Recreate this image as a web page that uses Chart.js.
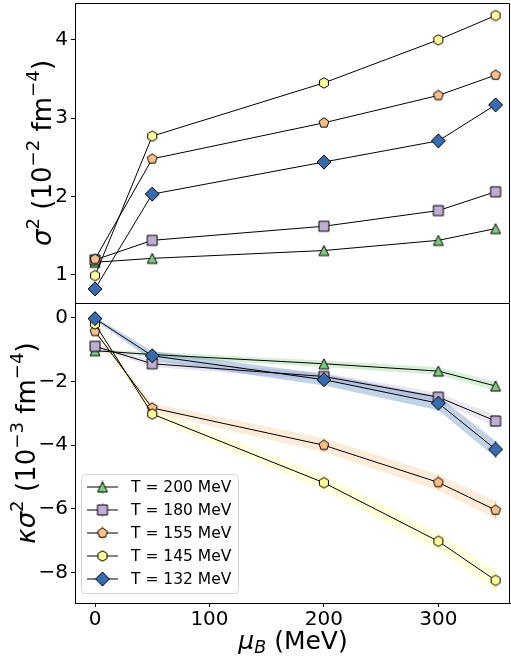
<!DOCTYPE html>
<html>
<head>
<meta charset="utf-8">
<script src="https://cdn.jsdelivr.net/npm/chart.js@4.4.0/dist/chart.umd.min.js"></script>
<style>
  body { margin: 0; background: #fff; }
  #wrap { position: relative; width: 511px; height: 659px; }
  canvas { position: absolute; left: 0; }
  #top { top: 0; }
  #bot { top: 303px; }
</style>
</head>
<body>
<div id="wrap">
  <canvas id="top" width="511" height="304"></canvas>
  <canvas id="bot" width="511" height="356"></canvas>
</div>
<script>
// chemical potential values (MeV)
var muB = [0, 50, 200, 300, 350];
var xTicks = [0, 100, 200, 300];
var topTicks = [1, 2, 3, 4];
var botTicks = [0, -2, -4, -6, -8];

var seriesLabels = ["T = 200 MeV", "T = 180 MeV", "T = 155 MeV", "T = 145 MeV", "T = 132 MeV"];
var seriesColors = ["#7fc97f", "#beaed4", "#fdc086", "#ffff99", "#386cb0"];
var seriesShapes = ["triangle", "square", "pentagon", "hexagon", "diamond"];

// sigma^2 (10^-2 fm^-4)
var sigma2_T200 = [1.16, 1.21, 1.31, 1.44, 1.59];
var sigma2_T180 = [1.19, 1.44, 1.62, 1.82, 2.06];
var sigma2_T155 = [1.20, 2.48, 2.94, 3.29, 3.55];
var sigma2_T145 = [0.99, 2.77, 3.45, 4.00, 4.31];
var sigma2_T132 = [0.82, 2.03, 2.44, 2.71, 3.17];

// kappa sigma^2 (10^-3 fm^-4)
var ks2_T200 = [-1.03, -1.15, -1.44, -1.67, -2.14];
var ks2_T180 = [-0.89, -1.44, -1.84, -2.49, -3.24];
var ks2_T155 = [-0.42, -2.83, -4.00, -5.17, -6.04];
var ks2_T145 = [-0.19, -3.02, -5.18, -7.02, -8.25];
var ks2_T132 = [-0.02, -1.19, -1.94, -2.68, -4.13];

// errors on kappa sigma^2
var ks2err_T200 = [0.05, 0.08, 0.10, 0.12, 0.14];
var ks2err_T180 = [0.05, 0.10, 0.12, 0.14, 0.18];
var ks2err_T155 = [0.05, 0.15, 0.22, 0.25, 0.28];
var ks2err_T145 = [0.05, 0.15, 0.25, 0.28, 0.32];
var ks2err_T132 = [0.05, 0.15, 0.18, 0.22, 0.26];

var sigma2All = [sigma2_T200, sigma2_T180, sigma2_T155, sigma2_T145, sigma2_T132];
var ks2All = [ks2_T200, ks2_T180, ks2_T155, ks2_T145, ks2_T132];
var ks2ErrAll = [ks2err_T200, ks2err_T180, ks2err_T155, ks2err_T145, ks2err_T132];

var FONT = '"DejaVu Sans", sans-serif';

function hexA(hex, a) {
  var n = parseInt(hex.slice(1), 16);
  return "rgba(" + (n >> 16) + "," + ((n >> 8) & 255) + "," + (n & 255) + "," + a + ")";
}

function makeMarker(shape, fill) {
  var c = document.createElement("canvas");
  c.width = 20; c.height = 20;
  var g = c.getContext("2d");
  g.translate(10, 10);
  g.beginPath();
  var i, a, n, r;
  if (shape == "triangle") {
    g.moveTo(0, -5); g.lineTo(5, 5); g.lineTo(-5, 5);
  } else if (shape == "square") {
    g.rect(-5, -5, 10, 10);
  } else if (shape == "diamond") {
    g.moveTo(0, -7); g.lineTo(7, 0); g.lineTo(0, 7); g.lineTo(-7, 0);
  } else {
    n = shape == "pentagon" ? 5 : 6;
    r = 5.2;
    for (i = 0; i < n; i++) {
      a = -Math.PI / 2 + i * 2 * Math.PI / n;
      if (i == 0) g.moveTo(r * Math.cos(a), r * Math.sin(a));
      else g.lineTo(r * Math.cos(a), r * Math.sin(a));
    }
  }
  g.closePath();
  g.fillStyle = fill;
  g.fill();
  g.lineWidth = 1;
  g.strokeStyle = "#000";
  g.stroke();
  return c;
}

var markers = seriesShapes.map(function (s, i) { return makeMarker(s, seriesColors[i]); });

function richText(ctx, parts, x, y, size, rot) {
  ctx.save();
  ctx.translate(x, y);
  ctx.rotate(rot);
  ctx.textBaseline = "alphabetic";
  ctx.textAlign = "left";
  var fonts = [], widths = [], total = 0;
  parts.forEach(function (p) {
    var s = (p.sup || p.sub) ? size * 0.7 : size;
    var f = (p.it ? "italic " : "") + s + "px " + FONT;
    ctx.font = f;
    var w = ctx.measureText(p.t).width;
    fonts.push(f); widths.push(w); total += w;
  });
  var cx = -total / 2;
  parts.forEach(function (p, i) {
    ctx.font = fonts[i];
    var dy = p.sup ? -size * 0.45 : (p.sub ? size * 0.17 : 0);
    ctx.fillStyle = "#000";
    ctx.fillText(p.t, cx, dy);
    cx += widths[i];
  });
  ctx.restore();
}

function lineDataset(vals, i) {
  return {
    data: muB.map(function (x, j) { return { x: x, y: vals[j] }; }),
    borderColor: "#000",
    borderWidth: 1,
    pointStyle: markers[i],
    pointRadius: 7,
    pointHoverRadius: 7,
    fill: false,
    tension: 0,
    clip: false,
    order: 10 - i
  };
}

var tickFont = { family: FONT, size: 20 };

function noPad(s) {
  s.paddingTop = 0; s.paddingBottom = 0; s.paddingLeft = 0; s.paddingRight = 0;
}

function yScale(min, max, ticks) {
  return {
    type: "linear",
    min: min, max: max,
    afterBuildTicks: function (s) { s.ticks = ticks.map(function (v) { return { value: v }; }); },
    afterFit: function (s) { s.width = 75; noPad(s); },
    ticks: {
      font: tickFont, color: "#000", padding: 3,
      callback: function (v) { return v < 0 ? "\u2212" + (-v) : "" + v; }
    },
    grid: { drawOnChartArea: false, drawTicks: true, tickLength: 4, color: "#000" },
    border: { display: true, color: "#000", width: 1 }
  };
}

var frame = {
  id: "frame",
  afterDraw: function (chart) {
    var a = chart.chartArea, ctx = chart.ctx;
    ctx.save();
    ctx.strokeStyle = "#000";
    ctx.lineWidth = 1;
    ctx.beginPath();
    ctx.moveTo(a.left, a.top + 0.5);
    ctx.lineTo(a.right - 0.5, a.top + 0.5);
    ctx.lineTo(a.right - 0.5, a.bottom);
    ctx.stroke();
    ctx.restore();
    var t = chart.options.plugins.richTitles;
    if (t) {
      t.items.forEach(function (it) {
        richText(ctx, it.parts, it.x, it.y, it.size, it.rot);
      });
    }
  }
};

// ---------- top panel ----------
var topSets = sigma2All.map(function (v, i) { return lineDataset(v, i); });

new Chart(document.getElementById("top"), {
  type: "line",
  data: { datasets: topSets },
  options: {
    responsive: false,
    animation: false,
    events: [],
    layout: { autoPadding: false, padding: { top: 3, right: 1, bottom: 1, left: 0 } },
    scales: {
      x: { type: "linear", min: -17.5, max: 362.6, display: false },
      y: yScale(0.64, 4.47, topTicks)
    },
    plugins: {
      legend: { display: false },
      tooltip: { enabled: false },
      richTitles: {
        items: [{
          parts: [{ t: "\u03c3", it: true }, { t: "2", sup: true }, { t: " (10" }, { t: "\u22122", sup: true },
                  { t: " fm" }, { t: "\u22124", sup: true }, { t: ")" }],
          x: 51, y: 153, size: 26, rot: -Math.PI / 2
        }]
      }
    }
  },
  plugins: [frame]
});

// ---------- bottom panel ----------
var botSets = [];
ks2All.forEach(function (v, i) {
  var e = ks2ErrAll[i];
  botSets.push({
    data: muB.map(function (x, j) { return { x: x, y: v[j] - e[j] }; }),
    borderWidth: 0, borderColor: "rgba(0,0,0,0)", pointRadius: 0, fill: false, tension: 0, order: 50 - i
  });
  botSets.push({
    data: muB.map(function (x, j) { return { x: x, y: v[j] + e[j] }; }),
    borderWidth: 0, borderColor: "rgba(0,0,0,0)", pointRadius: 0, fill: "-1",
    backgroundColor: hexA(seriesColors[i], 0.3), tension: 0, order: 50 - i
  });
});
ks2All.forEach(function (v, i) {
  var d = lineDataset(v, i);
  d.errs = ks2ErrAll[i];
  d.errColor = seriesColors[i];
  botSets.push(d);
});

var errorBars = {
  id: "errorBars",
  beforeDatasetDraw: function (chart, args) {
    var ds = chart.data.datasets[args.index];
    if (!ds.errs) return;
    var ctx = chart.ctx, xs = chart.scales.x, ys = chart.scales.y;
    ctx.save();
    ctx.strokeStyle = ds.errColor;
    ctx.lineWidth = 1.5;
    ds.data.forEach(function (p, j) {
      var px = xs.getPixelForValue(p.x);
      ctx.beginPath();
      ctx.moveTo(px, ys.getPixelForValue(p.y - ds.errs[j]));
      ctx.lineTo(px, ys.getPixelForValue(p.y + ds.errs[j]));
      ctx.stroke();
    });
    ctx.restore();
  }
};

var legendBox = {
  id: "legendBox",
  afterDraw: function (chart) {
    var ctx = chart.ctx;
    ctx.save();
    ctx.beginPath();
    ctx.roundRect(81.5, 171.5, 157, 119, 4);
    ctx.fillStyle = "rgba(255,255,255,0.8)";
    ctx.fill();
    ctx.strokeStyle = "#d6d6d6";
    ctx.lineWidth = 1;
    ctx.stroke();
    seriesLabels.forEach(function (lab, i) {
      var y = 184 + 23 * i;
      ctx.strokeStyle = "#000";
      ctx.lineWidth = 1;
      ctx.beginPath();
      ctx.moveTo(87, y); ctx.lineTo(118, y);
      ctx.stroke();
      ctx.strokeStyle = seriesColors[i];
      ctx.lineWidth = 1.5;
      ctx.beginPath();
      ctx.moveTo(102.5, y - 7); ctx.lineTo(102.5, y + 7);
      ctx.stroke();
      ctx.drawImage(markers[i], 102.5 - 10, y - 10);
      ctx.fillStyle = "#000";
      ctx.font = "15.5px " + FONT;
      ctx.textBaseline = "middle";
      ctx.fillText(lab, 131, y + 1);
    });
    ctx.restore();
  }
};

new Chart(document.getElementById("bot"), {
  type: "line",
  data: { datasets: botSets },
  options: {
    responsive: false,
    animation: false,
    events: [],
    layout: { autoPadding: false, padding: { top: 0, right: 1, bottom: 0, left: 0 } },
    scales: {
      x: {
        type: "linear", min: -17.5, max: 362.6,
        afterBuildTicks: function (s) { s.ticks = xTicks.map(function (v) { return { value: v }; }); },
        afterFit: function (s) { s.height = 56; noPad(s); },
        ticks: { font: tickFont, color: "#000", padding: 1, maxRotation: 0 },
        grid: { drawOnChartArea: false, drawTicks: true, tickLength: 4, color: "#000" },
        border: { display: true, color: "#000", width: 1 }
      },
      y: yScale(-8.96, 0.47, botTicks)
    },
    plugins: {
      legend: { display: false },
      tooltip: { enabled: false },
      richTitles: {
        items: [{
          parts: [{ t: "\u03ba\u03c3", it: true }, { t: "2", sup: true }, { t: " (10" }, { t: "\u22123", sup: true },
                  { t: " fm" }, { t: "\u22124", sup: true }, { t: ")" }],
          x: 35, y: 140, size: 26, rot: -Math.PI / 2
        }, {
          parts: [{ t: "\u03bc", it: true }, { t: "B", it: true, sub: true }, { t: " (MeV)" }],
          x: 293, y: 346, size: 25, rot: 0
        }]
      }
    }
  },
  plugins: [errorBars, frame, legendBox]
});
</script>
</body>
</html>
